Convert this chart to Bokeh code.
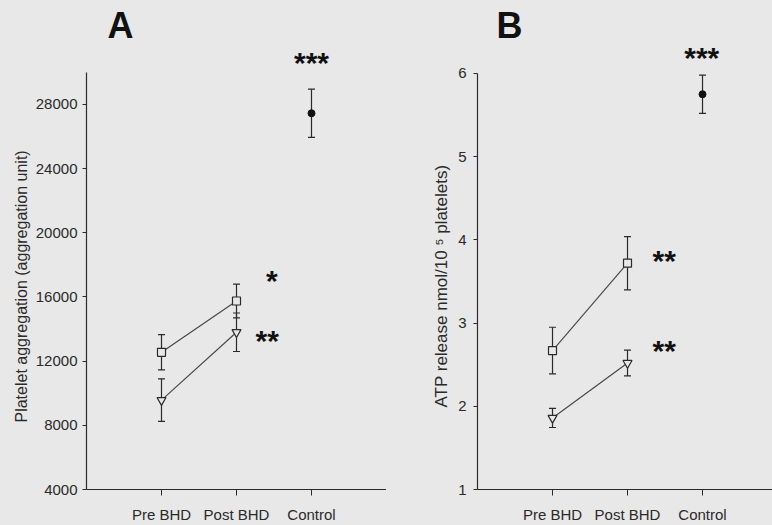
from bokeh.plotting import figure
from bokeh.layouts import row
from bokeh.models import ColumnDataSource, Whisker, TeeHead, FixedTicker, Title
from bokeh.core.properties import value
from bokeh.embed import file_html
from bokeh.resources import INLINE

# ---------------- data ----------------
groups = ["Pre BHD", "Post BHD", "Control"]
group_pos = [1, 2, 3]

# Panel A: platelet aggregation (aggregation unit)
agg_square_mean = [12550, 15750]
agg_square_err = [1100, 1050]
agg_tri_mean = [9570, 13800]
agg_tri_err = [1330, 1200]
agg_ctrl_mean = [27450]
agg_ctrl_err = [1500]
agg_ticks = [4000, 8000, 12000, 16000, 20000, 24000, 28000]

# Panel B: ATP release nmol/10^5 platelets
atp_square_mean = [2.67, 3.72]
atp_square_err = [0.28, 0.32]
atp_tri_mean = [1.86, 2.52]
atp_tri_err = [0.115, 0.155]
atp_ctrl_mean = [5.75]
atp_ctrl_err = [0.23]
atp_ticks = [1, 2, 3, 4, 5, 6]

# significance marks
stars_a_x = [3.0, 2.47, 2.41]
stars_a_y = [30600, 17000, 13270]
stars_a_text = ["***", "*", "**"]
stars_b_x = [2.99, 2.49, 2.49]
stars_b_y = [6.19, 3.75, 2.67]
stars_b_text = ["***", "**", "**"]

BG = "#e8e8e8"
INK = "#2a2a2a"
LINE = "#444444"
FONT = "Liberation Sans"


def make_panel(title, ylabel, label_size, label_offset, label_standoff,
               sq_m, sq_e, tr_m, tr_e, c_m, c_e,
               yticks, y_range, y_bounds, x_end, left_border,
               tick_standoff, sx, sy, st, title_offset):
    p = figure(width=386, height=525, x_range=(0, x_end), y_range=y_range,
               output_backend="svg", toolbar_location=None,
               min_border_left=left_border, min_border_right=0,
               min_border_top=45, min_border_bottom=35,
               background_fill_color=BG, border_fill_color=BG,
               outline_line_color=None,
               styles={"background-color": BG})
    p.title.text = title
    p.title.text_font = FONT
    p.title.text_font_size = "36px"
    p.title.text_font_style = "bold"
    p.title.text_color = "#111111"
    p.title.align = "left"
    p.title.offset = title_offset
    p.title.standoff = 0
    p.grid.visible = False

    # axes
    p.xaxis.ticker = FixedTicker(ticks=group_pos)
    p.xaxis.major_label_overrides = {k: v for k, v in zip(group_pos, groups)}
    p.yaxis.ticker = FixedTicker(ticks=yticks)
    p.yaxis.bounds = y_bounds
    for ax in (p.xaxis[0], p.yaxis[0]):
        ax.axis_line_color = INK
        ax.axis_line_width = 1.2
        ax.major_tick_line_color = INK
        ax.minor_tick_line_color = None
        ax.major_tick_in = 0
        ax.major_label_text_font = FONT
        ax.major_label_text_font_size = "15px"
        ax.major_label_text_color = INK
    p.xaxis.major_tick_out = 6
    p.xaxis.major_label_standoff = 10
    p.yaxis.major_tick_out = 4
    p.yaxis.major_label_standoff = tick_standoff

    # y-axis title, positioned along the drawn axis line
    ytitle = Title(text=ylabel, align="left", offset=label_offset,
                   standoff=label_standoff, text_font=FONT,
                   text_font_size=label_size, text_font_style="normal",
                   text_color=INK)
    p.add_layout(ytitle, "left")

    x2 = group_pos[:2]
    xc = group_pos[2:]
    src_sq = ColumnDataSource(dict(x=x2, y=sq_m,
                                   lo=[m - e for m, e in zip(sq_m, sq_e)],
                                   hi=[m + e for m, e in zip(sq_m, sq_e)]))
    src_tr = ColumnDataSource(dict(x=x2, y=tr_m,
                                   lo=[m - e for m, e in zip(tr_m, tr_e)],
                                   hi=[m + e for m, e in zip(tr_m, tr_e)]))
    src_c = ColumnDataSource(dict(x=xc, y=c_m,
                                  lo=[m - e for m, e in zip(c_m, c_e)],
                                  hi=[m + e for m, e in zip(c_m, c_e)]))

    for src in (src_sq, src_tr, src_c):
        w = Whisker(base="x", lower="lo", upper="hi", source=src,
                    line_color=INK, line_width=1.2,
                    upper_head=TeeHead(size=7, line_color=INK, line_width=1.2),
                    lower_head=TeeHead(size=7, line_color=INK, line_width=1.2),
                    level="underlay")
        p.add_layout(w)

    p.line("x", "y", source=src_sq, line_color=LINE, line_width=1.1)
    p.line("x", "y", source=src_tr, line_color=LINE, line_width=1.1)
    p.scatter("x", "y", source=src_sq, marker="square", size=8,
              fill_color=BG, line_color=INK, line_width=1.2)
    p.scatter("x", "y", source=src_tr, marker="inverted_triangle", size=9,
              fill_color=BG, line_color=INK, line_width=1.2)
    p.scatter("x", "y", source=src_c, marker="circle", size=7,
              fill_color="#111111", line_color="#111111")

    p.text(x=sx, y=sy, text=st, text_font=value(FONT),
           text_font_size="30px", text_font_style="bold",
           text_align="center", text_baseline="alphabetic",
           text_color="#111111")
    return p


pA = make_panel("A", "Platelet aggregation (aggregation unit)", "16px", 67, 6,
                agg_square_mean, agg_square_err, agg_tri_mean, agg_tri_err,
                agg_ctrl_mean, agg_ctrl_err, agg_ticks,
                (4000, 31674), (4000, 30000), 4.0, 86, 5,
                stars_a_x, stars_a_y, stars_a_text, 21)

pB = make_panel("B", "ATP release nmol/10 \u2075 platelets)", "17px", 82, 9,
                atp_square_mean, atp_square_err, atp_tri_mean, atp_tri_err,
                atp_ctrl_mean, atp_ctrl_err, atp_ticks,
                (1, 6.336), (1, 6), 3.933, 91, 7,
                stars_b_x, stars_b_y, stars_b_text, 19)

layout = row(pA, pB, spacing=0, styles={"background-color": BG})
open("out.html", "w").write(file_html(layout, INLINE))
